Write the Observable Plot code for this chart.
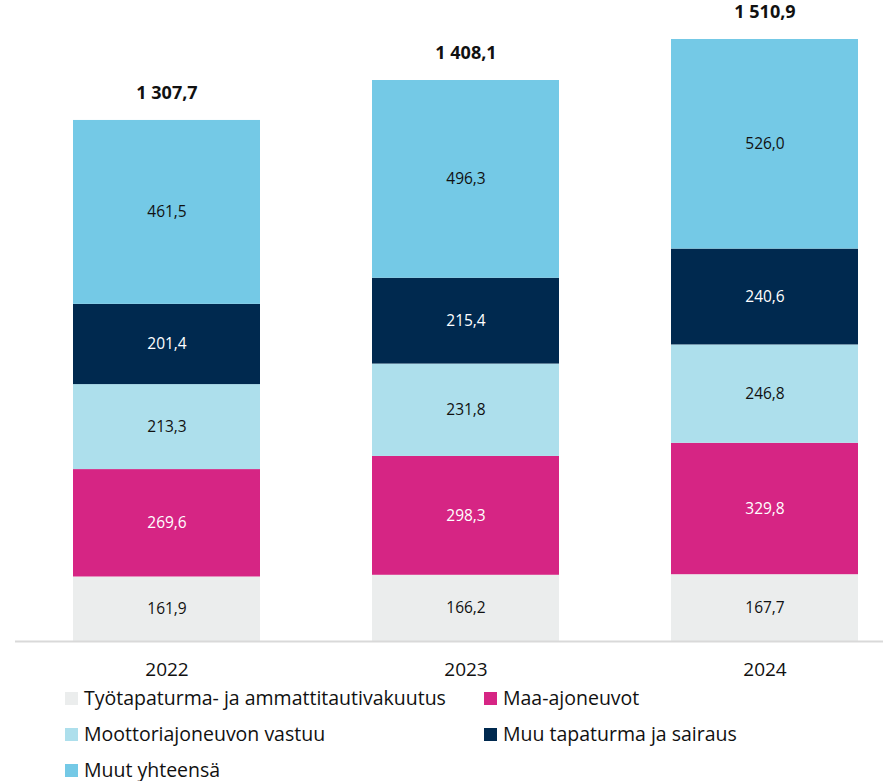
<!DOCTYPE html>
<html>
<head>
<meta charset="utf-8">
<script src="https://cdn.jsdelivr.net/npm/d3@7"></script>
<script src="https://cdn.jsdelivr.net/npm/@observablehq/plot@0.6"></script>
<style>
  body { margin: 0; background: #fff; font-family: "Open Sans", sans-serif; }
  #chart svg { display: block; }
  .legend { display: grid; grid-template-columns: 419px auto; padding-left: 65px; margin-top: 1px; row-gap: 14px; }
  .legend .item { display: flex; align-items: center; height: 22px; line-height: 22px; font-size: 19.5px; color: #111; }
  .legend .sw { width: 13px; height: 13px; margin-right: 6px; flex: none; }
</style>
</head>
<body>
<div id="chart"></div>
<script>
const years = ["2022", "2023", "2024"];
const seriesNames = [
  "Työtapaturma- ja ammattitautivakuutus",
  "Maa-ajoneuvot",
  "Moottoriajoneuvon vastuu",
  "Muu tapaturma ja sairaus",
  "Muut yhteensä"
];
const seriesColors = ["#EBEDED", "#D62584", "#ADDFEC", "#00294F", "#74C9E6"];
const labelColors = ["#111", "#fff", "#111", "#fff", "#111"];
const tyotapaturma = [161.9, 166.2, 167.7];
const maaAjoneuvot = [269.6, 298.3, 329.8];
const moottoriVastuu = [213.3, 231.8, 246.8];
const muuTapaturma = [201.4, 215.4, 240.6];
const muutYhteensa = [461.5, 496.3, 526.0];
const totals = [1307.7, 1408.1, 1510.9];
const legendOrder = [0, 1, 2, 3, 4];

const seriesValues = [tyotapaturma, maaAjoneuvot, moottoriVastuu, muuTapaturma, muutYhteensa];
const data = [];
seriesNames.forEach((s, i) => years.forEach((y, j) => data.push({year: y, series: s, value: seriesValues[i][j], idx: i})));
const totalData = years.map((y, j) => ({year: y, total: totals[j]}));

const fi = d3.formatLocale({decimal: ",", thousands: "\u00a0", grouping: [3], currency: ["", ""]});
const fmt = fi.format(",.1f");

const chart = Plot.plot({
  width: 883,
  height: 686,
  marginTop: 39,
  marginBottom: 45,
  marginLeft: 15,
  marginRight: 0,
  style: {fontFamily: "Open Sans, sans-serif", background: "#fff"},
  x: {domain: years, range: [72, 859], paddingInner: 0.376, paddingOuter: 0, label: null},
  y: {domain: [0, d3.max(totals)], axis: null},
  color: {domain: seriesNames, range: seriesColors},
  marks: [
    Plot.barY(data, Plot.stackY({x: "year", y: "value", fill: "series", order: null})),
    Plot.text(data, Plot.stackY({x: "year", y: "value", text: d => fmt(d.value), fill: d => labelColors[d.idx], fontSize: 15.5, order: null})),
    Plot.text(totalData, {x: "year", y: "total", text: d => fmt(d.total), dy: -27, fontSize: 18, fontWeight: "bold", fill: "#111"}),
    Plot.ruleY([0], {stroke: "#d9d9d9", strokeWidth: 2}),
    Plot.axisX({tickSize: 0, tickPadding: 21, fontSize: 19, label: null, color: "#111"})
  ]
});
document.getElementById("chart").appendChild(chart);

const legend = document.createElement("div");
legend.className = "legend";
legendOrder.forEach(i => {
  const item = document.createElement("div");
  item.className = "item";
  const sw = document.createElement("span");
  sw.className = "sw";
  sw.style.background = seriesColors[i];
  const t = document.createElement("span");
  t.textContent = seriesNames[i];
  item.appendChild(sw);
  item.appendChild(t);
  legend.appendChild(item);
});
document.getElementById("chart").appendChild(legend);
</script>
</body>
</html>
